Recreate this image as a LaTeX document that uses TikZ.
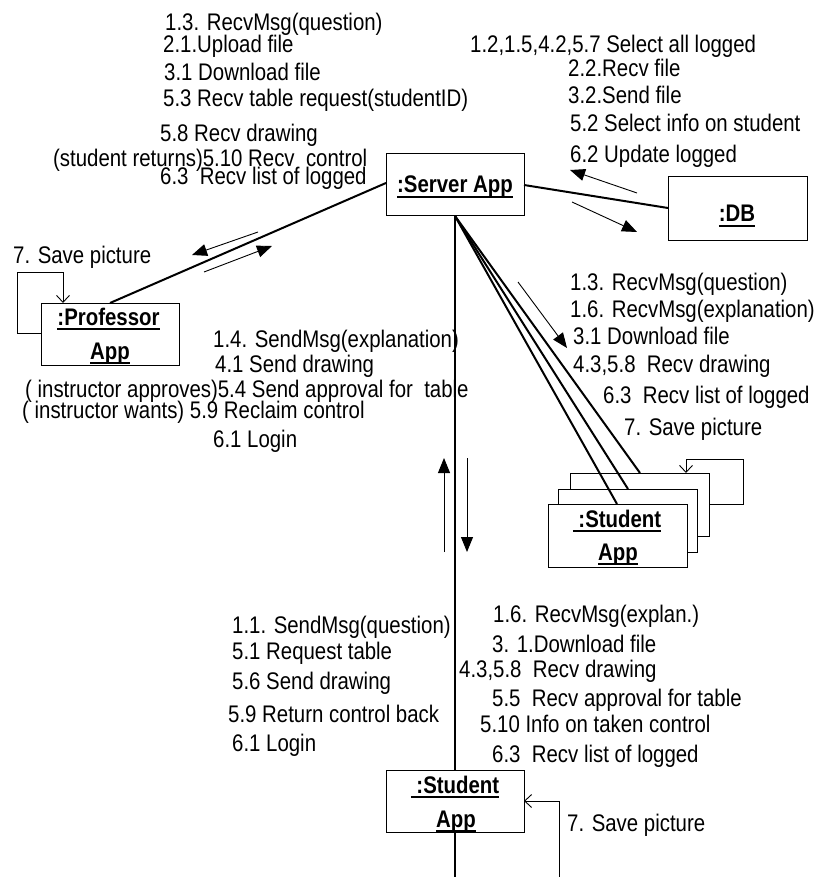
\documentclass[tikz,border=0pt]{standalone}
\usepackage{fontspec}
\setmainfont{Liberation Sans}[FakeStretch=0.85]
\usetikzlibrary{arrows.meta}
\newlength\ulw
\newcommand\ulbox[1]{\settowidth\ulw{#1}\rlap{\rule[-5pt]{\ulw}{1.8pt}}#1}
\tikzset{
  box/.style={draw, line width=1pt, fill=white, minimum width=138pt, minimum height=62pt, inner sep=0pt},
  lbl/.style={anchor=base west, inner sep=0pt, font=\fontsize{24}{28}\selectfont},
  blbl/.style={anchor=base, inner sep=0pt, font=\fontsize{24}{28}\selectfont\bfseries},
  conn/.style={line width=2pt},
  msg/.style={line width=0.9pt, -{Triangle[length=15pt,width=12pt]}},
  self/.style={line width=0.9pt, -{Straight Barb[length=7pt,width=13pt]}},
}
\begin{document}
\begin{tikzpicture}[x=1pt,y=-1pt]
\path[use as bounding box] (0,0) rectangle (813,877);
% boxes
\node[box] (srv) at (455,185) {};
\node[box, minimum width=139pt, minimum height=63pt] (db) at (737.5,208.5) {};
\node[box] (prof) at (110,334) {};
\node[box, minimum width=139pt, minimum height=63pt] (stk3) at (639.5,504.5) {};
\node[box, minimum width=139pt, minimum height=63pt] (stk2) at (627.5,520.5) {};
\node[box, minimum width=139pt, minimum height=63pt] (stk1) at (617.5,535.5) {};
\node[box] (stu) at (455,801) {};
% box labels
\node[blbl] (srvl) at (455,193) {\ulbox{:Server App}};
\node[blbl] (dbl) at (737,222) {\ulbox{:DB}};
\node[blbl] (profl1) at (108.5,325) {\ulbox{:Professor}};
\node[blbl] (profl2) at (110,359) {\ulbox{App}};
\node[blbl] (stkl1) at (617,527) {\ulbox{\ :Student}};
\node[blbl] (stkl2) at (618,560) {\ulbox{App}};
\node[blbl] (stul1) at (455,793) {\ulbox{\ :Student}};
\node[blbl] (stul2) at (456,827) {\ulbox{App}};
% connector points
\coordinate (srvS) at (455,216);
\coordinate (srvE) at (524,185);
\coordinate (srvW) at (386,183);
\coordinate (dbW) at (668,208);
\coordinate (profN) at (110,303);
\coordinate (stk3N) at (640,473);
\coordinate (stk2N) at (628,489);
\coordinate (stk1N) at (617,504);
\coordinate (stuN) at (455,770);
\coordinate (stuS) at (455,832);
\coordinate (bot) at (455,877);
% main links
\draw[conn] (srvE) -- (dbW);
\draw[conn] (profN) -- (srvW);
\draw[conn] (srvS) -- (stuN);
\draw[conn] (stuS) -- (bot);
\draw[conn] (srvS) -- (stk3N);
\draw[conn] (srvS) -- (stk2N);
\draw[conn] (srvS) -- (stk1N);
% message arrows
\coordinate (a1s) at (637,193); \coordinate (a1e) at (570,170);
\coordinate (a2s) at (572,202); \coordinate (a2e) at (637,232);
\coordinate (a3s) at (258,232); \coordinate (a3e) at (192,255);
\coordinate (a4s) at (204,272); \coordinate (a4e) at (272,246);
\coordinate (a5s) at (444,552); \coordinate (a5e) at (444,458);
\coordinate (a6s) at (467,458); \coordinate (a6e) at (467,552);
\coordinate (a7s) at (518,282); \coordinate (a7e) at (567,348);
\draw[msg] (a1s) -- (a1e);
\draw[msg] (a2s) -- (a2e);
\draw[msg] (a3s) -- (a3e);
\draw[msg] (a4s) -- (a4e);
\draw[msg] (a5s) -- (a5e);
\draw[msg] (a6s) -- (a6e);
\draw[msg] (a7s) -- (a7e);
% self loops
\coordinate (pl0) at (41,333); \coordinate (pl1) at (63,303);
\draw[self] (pl0) -- (17,333) -- (17,272) -- (63,272) -- (pl1);
\coordinate (sl0) at (709,504); \coordinate (sl1) at (686,473);
\draw[self] (sl0) -- (743,504) -- (743,459) -- (686,459) -- (sl1);
\coordinate (bl0) at (559,877); \coordinate (bl1) at (524,801);
\draw[self] (bl0) -- (559,801) -- (bl1);
% texts top left
\node[lbl] (t1) at (165,31) {1.3. RecvMsg(question)};
\node[lbl] (t2) at (163,53) {2.1.Upload file};
\node[lbl] (t3) at (164,81) {3.1 Download file};
\node[lbl] (t4) at (163,107) {5.3 Recv table request(studentID)};
\node[lbl] (t5) at (160,142) {5.8 Recv drawing};
\node[lbl] (t6) at (53,167) {(student returns)5.10 Recv\ \ control};
\node[lbl] (t7) at (160,185) {6.3\ \ Recv list of logged};
% top right
\node[lbl] (r1) at (470,53) {1.2,1.5,4.2,5.7 Select all logged};
\node[lbl] (r2) at (568,77) {2.2.Recv file};
\node[lbl] (r3) at (568,104) {3.2.Send file};
\node[lbl] (r4) at (570,132) {5.2 Select info on student};
\node[lbl] (r5) at (570,163) {6.2 Update logged};
% professor
\node[lbl] (p0) at (13,263) {7. Save picture};
\node[lbl] (p1) at (213,347) {1.4. SendMsg(explanation)};
\node[lbl] (p2) at (215,372) {4.1 Send drawing};
\node[lbl] (p3) at (25,397) {( instructor approves)5.4 Send approval for\ \ table};
\node[lbl] (p4) at (22,418) {( instructor wants) 5.9 Reclaim control};
\node[lbl] (p5) at (213,447) {6.1 Login};
% student stack
\node[lbl] (s1) at (570,290) {1.3. RecvMsg(question)};
\node[lbl] (s2) at (570,317) {1.6. RecvMsg(explanation)};
\node[lbl] (s3) at (573,344) {3.1 Download file};
\node[lbl] (s4) at (573,372) {4.3,5.8\ \ Recv drawing};
\node[lbl] (s5) at (603,403) {6.3\ \ Recv list of logged};
\node[lbl] (s6) at (624,435) {7. Save picture};
% bottom left
\node[lbl] (b1) at (232,633) {1.1. SendMsg(question)};
\node[lbl] (b2) at (232,659) {5.1 Request table};
\node[lbl] (b3) at (232,689) {5.6 Send drawing};
\node[lbl] (b4) at (228,722) {5.9 Return control back};
\node[lbl] (b5) at (232,751) {6.1 Login};
% bottom right
\node[lbl] (c1) at (493,622) {1.6. RecvMsg(explan.)};
\node[lbl] (c2) at (492,652) {3. 1.Download file};
\node[lbl] (c3) at (459,677) {4.3,5.8\ \ Recv drawing};
\node[lbl] (c4) at (492,706) {5.5\ \ Recv approval for table};
\node[lbl] (c5) at (480,732) {5.10 Info on taken control};
\node[lbl] (c6) at (492,762) {6.3\ \ Recv list of logged};
\node[lbl] (c7) at (567,831) {7. Save picture};
\end{tikzpicture}
\end{document}
